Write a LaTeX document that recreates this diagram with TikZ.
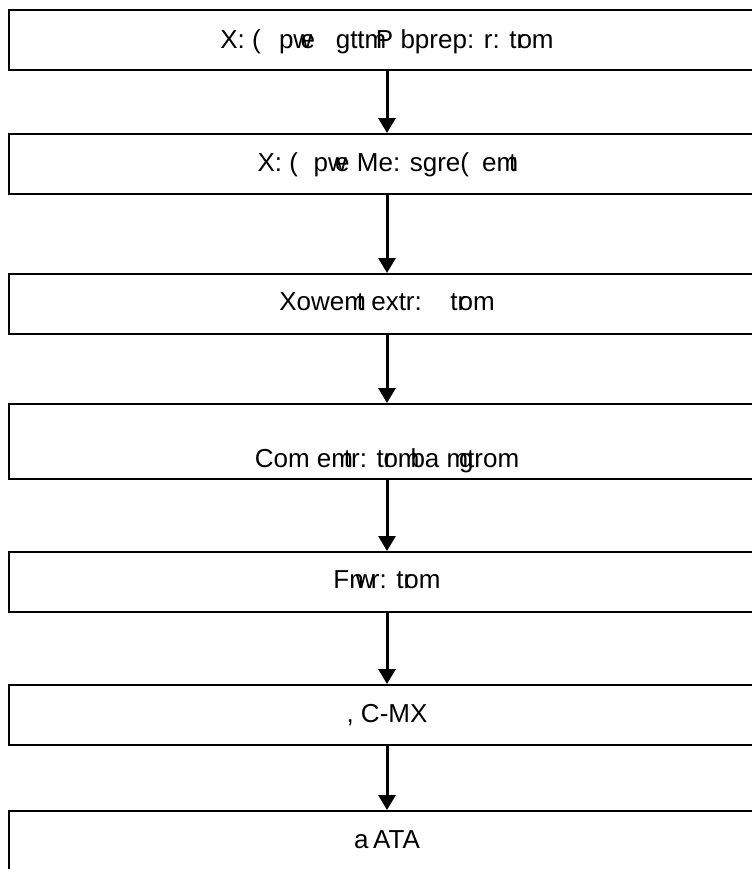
\documentclass[tikz,border=0pt]{standalone}
\usepackage{fontspec}
\setmainfont{Liberation Sans}
\usetikzlibrary{arrows.meta}
\begin{document}
\begin{tikzpicture}[x=1bp,y=-1bp,
  stagebox/.style={draw, line width=2bp, inner sep=0pt, minimum width=756bp},
  stagetext/.style={anchor=base, inner sep=0pt, font=\fontsize{26bp}{30bp}\selectfont},
  flow/.style={line width=3bp, -{Triangle[width=17bp,length=15bp]}}]
\useasboundingbox (0,0) rectangle (752,869);
\clip (0,0) rectangle (752,869);
% stage boxes
\node[stagebox, minimum height=60bp] (b1) at (387,40) {};
\node[stagebox, minimum height=60bp] (b2) at (387,164) {};
\node[stagebox, minimum height=60bp] (b3) at (387,304) {};
\node[stagebox, minimum height=75bp] (b4) at (387,441.5) {};
\node[stagebox, minimum height=60bp] (b5) at (387,582) {};
\node[stagebox, minimum height=60bp] (b6) at (387,715) {};
\node[stagebox, minimum height=60bp] (b7) at (387,841) {};
% stage labels
\node[stagetext] (t1) at (387,48) {X: (\hspace{.7em}pw\kern-.45em e\hspace{.8em}gttm\kern-.4em P bprep: r: tr\kern-.3em om};
\node[stagetext] (t2) at (387,171) {X: (\hspace{.6em}pw\kern-.45em e Me: sgre(\hspace{.5em}em\kern-.35em t};
\node[stagetext] (t3) at (387,310) {Xowem\kern-.35em t extr:\hspace{1.1em}tr\kern-.3em om};
\node[stagetext] (t4) at (387,467) {Com em\kern-.35em tr: tr\kern-.35em om\kern-.35em ba m\kern-.35em g\kern-.25em trom};
\node[stagetext] (t5) at (387,588) {Fn\kern-.3em w\kern-.15em r: tr\kern-.3em om};
\node[stagetext] (t6) at (387,722) {, C-MX};
\node[stagetext] (t7) at (387,848) {a\kern-.1em\ ATA};
% connectors
\draw[flow] (b1.south) -- (b2.north);
\draw[flow] (b2.south) -- (b3.north);
\draw[flow] (b3.south) -- (b4.north);
\draw[flow] (b4.south) -- (b5.north);
\draw[flow] (b5.south) -- (b6.north);
\draw[flow] (b6.south) -- (b7.north);
\end{tikzpicture}
\end{document}
